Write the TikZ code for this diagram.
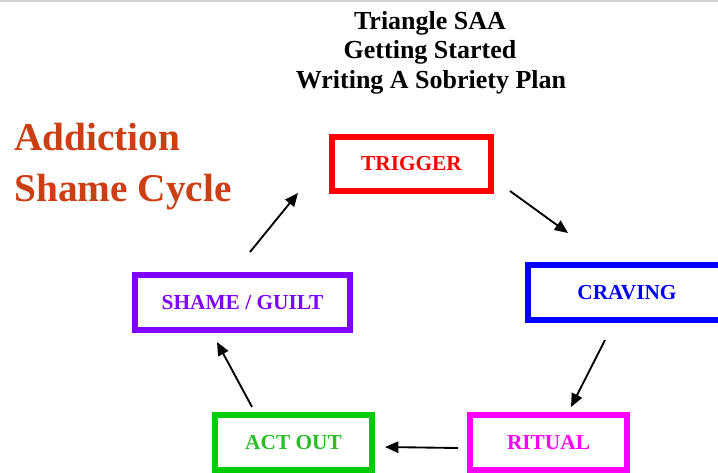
\documentclass[tikz,border=0pt]{standalone}
\usepackage{fontspec}
\setmainfont{Liberation Serif}
\usetikzlibrary{arrows.meta}
\definecolor{addict}{RGB}{204,63,18}
\definecolor{trig}{RGB}{255,0,0}
\definecolor{crav}{RGB}{0,0,255}
\definecolor{shamec}{RGB}{127,0,255}
\definecolor{actc}{RGB}{0,204,0}
\definecolor{acttext}{RGB}{40,190,40}
\definecolor{ritc}{RGB}{255,0,255}
\tikzset{
  cyclebox/.style={draw, line width=4.5pt, rectangle, inner sep=0pt, outer sep=0pt,
    font=\fontsize{16}{18}\selectfont\bfseries},
  titletext/.style={inner sep=0pt, anchor=base, font=\fontsize{19.5}{22}\selectfont\bfseries},
  bigtext/.style={inner sep=0pt, anchor=base west, text=addict, font=\fontsize{29.5}{33}\selectfont\bfseries},
  cyclearrow/.style={line width=1.4pt, -{Triangle[length=10pt,width=8.5pt]}}
}
\begin{document}
\begin{tikzpicture}[x=0.75pt,y=-0.75pt]
\path[clip] (0,0) rectangle (718,472);
\fill[white] (0,0) rectangle (718,472);
\fill[black!18] (0,0) rectangle (718,2);
% title
\node[titletext] (t1) at (430,29) {Triangle SAA};
\node[titletext] (t2) at (430,58) {Getting Started};
\node[titletext] (t3) at (431,88) {Writing A Sobriety Plan};
% side caption
\node[bigtext] (c1) at (14,150) {Addiction};
\node[bigtext] (c2) at (14,201) {Shame Cycle};
% boxes
\node[cyclebox, draw=trig, text=trig, minimum width=119.25pt, minimum height=40.5pt] (trigger) at (411.5,164) {TRIGGER};
\node[cyclebox, draw=crav, text=crav, minimum width=148.5pt, minimum height=41.25pt] (craving) at (627,292.5) {CRAVING};
\node[cyclebox, draw=shamec, text=shamec, minimum width=161.25pt, minimum height=41.25pt] (shame) at (242.5,302.5) {SHAME / GUILT};
\node[cyclebox, draw=actc, text=acttext, minimum width=117.75pt, minimum height=41.25pt] (actout) at (293.5,442.5) {ACT OUT};
\node[cyclebox, draw=ritc, text=ritc, minimum width=117.75pt, minimum height=41.25pt] (ritual) at (548.5,442.5) {RITUAL};
% arrow ends
\coordinate (a1s) at (250,252);
\coordinate (a1e) at (298,193);
\coordinate (a2s) at (510,191);
\coordinate (a2e) at (568,233);
\coordinate (a3s) at (605,340);
\coordinate (a3e) at (571,407);
\coordinate (a4s) at (458,448);
\coordinate (a4e) at (385,447);
\coordinate (a5s) at (252,407);
\coordinate (a5e) at (217,342);
\draw[cyclearrow] (a1s) -- (a1e);
\draw[cyclearrow] (a2s) -- (a2e);
\draw[cyclearrow] (a3s) -- (a3e);
\draw[cyclearrow] (a4s) -- (a4e);
\draw[cyclearrow] (a5s) -- (a5e);
\end{tikzpicture}
\end{document}
